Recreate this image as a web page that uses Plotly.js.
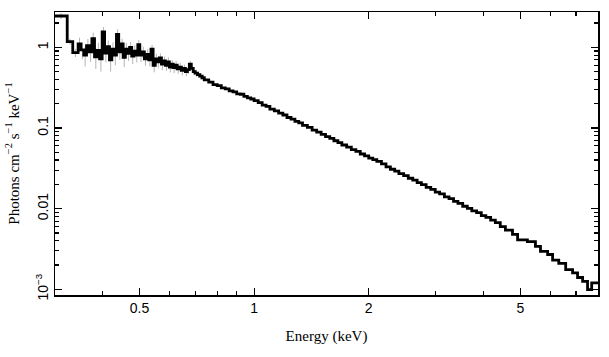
<!DOCTYPE html>
<html>
<head>
<meta charset="utf-8">
<script src="https://cdn.plot.ly/plotly-3.0.1.min.js"></script>
<style>html,body{margin:0;padding:0;background:#fff;}#chart{width:609px;height:357px;}</style>
</head>
<body>
<div id="chart"></div>
<script>
// Lower bin edges (keV)
var energyLo = [
  0.300,0.323,0.334,0.345,0.351,0.357,0.363,0.369,0.375,0.381,
  0.387,0.393,0.399,0.405,0.411,0.417,0.423,0.429,0.435,0.441,
  0.447,0.453,0.459,0.465,0.471,0.477,0.483,0.489,0.495,0.501,
  0.508,0.515,0.522,0.529,0.536,0.543,0.550,0.557,0.564,0.571,
  0.578,0.585,0.592,0.599,0.606,0.613,0.620,0.628,0.636,0.644,
  0.652,0.660,0.668,0.676,0.684,0.692,0.700,0.710,0.720,0.730,
  0.74,0.76,0.78,0.80,0.82,0.84,0.86,0.88,0.90,0.92,
  0.94,0.96,0.98,1.000,1.025,1.05,1.075,1.10,1.13,1.16,
  1.19,1.22,1.25,1.28,1.31,1.34,1.38,1.42,1.46,1.50,
  1.54,1.58,1.62,1.66,1.70,1.75,1.80,1.85,1.90,1.95,
  2.00,2.05,2.10,2.16,2.22,2.28,2.34,2.40,2.47,2.54,
  2.61,2.68,2.75,2.83,2.91,2.99,3.07,3.16,3.25,3.34,
  3.43,3.53,3.63,3.73,3.84,3.95,4.06,4.18,4.30,4.43,
  4.57,4.77,4.92,5.22,5.48,5.65,5.90,6.08,6.31,6.58,
  6.86,7.07,7.29,7.51,7.70
];
var energyMax = 8.0;

// Flux per bin (photons cm^-2 s^-1 keV^-1)
var flux = [
  2.45,1.18,0.86,1.10,0.93,0.80,1.05,0.88,1.28,0.76,
  0.92,0.72,1.55,0.85,1.02,0.70,0.95,0.80,1.45,0.88,
  1.10,0.75,0.95,0.84,1.00,0.78,0.90,0.80,1.08,0.80,
  0.88,0.72,0.82,0.70,0.95,0.60,0.72,0.66,0.74,0.62,
  0.68,0.60,0.66,0.57,0.62,0.56,0.60,0.54,0.57,0.52,
  0.55,0.50,0.53,0.62,0.55,0.50,0.48,0.46,0.44,0.42,
  0.395,0.370,0.345,0.335,0.315,0.305,0.288,0.280,0.265,0.262,
  0.247,0.236,0.229,0.218,0.206,0.192,0.185,0.171,0.163,0.153,
  0.145,0.135,0.129,0.121,0.116,0.108,0.102,0.094,0.089,0.0835,
  0.0780,0.0745,0.0695,0.0660,0.0615,0.0580,0.0540,0.0512,0.0476,0.0452,
  0.0422,0.0405,0.0385,0.0360,0.0330,0.0308,0.0292,0.0272,0.0256,0.0238,
  0.0226,0.0210,0.0198,0.0183,0.0173,0.0160,0.0152,0.0140,0.0133,0.0123,
  0.0116,0.0107,0.0101,0.0094,0.0089,0.0082,0.0078,0.0072,0.0067,0.0060,
  0.0054,0.0048,0.0041,0.0039,0.0034,0.00295,0.0027,0.0023,0.0021,0.00175,
  0.0016,0.0014,0.00125,0.00099,0.0012
];

// 1-sigma errors for the low-energy bins
var fluxErr = [
  0.20,0.10,0.10,0.22,0.22,0.22,0.22,0.22,0.24,0.22,
  0.22,0.22,0.24,0.20,0.20,0.20,0.20,0.20,0.22,0.18,
  0.18,0.18,0.18,0.16,0.16,0.16,0.16,0.15,0.16,0.14,
  0.14,0.13,0.13,0.12,0.13,0.11,0.11,0.10,0.10,0.10,
  0.09,0.09,0.09,0.08,0.08,0.08,0.08,0.07,0.07,0.07,
  0.06,0.06,0.06,0.06,0.05,0.05,0.05,0.04,0.04,0.04
];

var xTickVals = [0.5, 1, 2, 5];
var xTickText = ['0.5', '1', '2', '5'];
var xMinorVals = [0.4, 0.6, 0.7, 0.8, 0.9, 3, 4, 6, 7];
var yTickVals = [0.001, 0.01, 0.1, 1];
var yTickText = ['10<sup>\u22123</sup>', '0.01', '0.1', '1'];
var yMinorVals = [0.002,0.003,0.004,0.005,0.006,0.007,0.008,0.009,
                  0.02,0.03,0.04,0.05,0.06,0.07,0.08,0.09,
                  0.2,0.3,0.4,0.5,0.6,0.7,0.8,0.9,2];

var n = Math.min(energyLo.length, flux.length);
var edges = energyLo.slice(0, n).concat([energyMax]);
var stepX = edges.slice();
var stepY = flux.slice(0, n).concat([flux[n - 1]]);

var m = Math.min(fluxErr.length, n);
var errX = [], errY = [];
for (var i = 0; i < m; i++) {
  errX.push(Math.sqrt(edges[i] * edges[i + 1]));
  errY.push(flux[i]);
}

var traces = [
  {
    x: errX, y: errY, type: 'scatter', mode: 'markers',
    marker: {size: 1, color: 'rgba(0,0,0,0)'},
    error_y: {type: 'data', array: fluxErr.slice(0, m), visible: true,
              color: '#b4b4b4', thickness: 1, width: 0},
    hoverinfo: 'skip', showlegend: false
  },
  {
    x: stepX, y: stepY, type: 'scatter', mode: 'lines',
    line: {shape: 'hv', color: '#000', width: 2.8},
    showlegend: false
  }
];

var tickFont = {family: 'Liberation Sans, Arial, sans-serif', size: 14, color: '#000'};
var titleFont = {family: 'Liberation Serif, Times New Roman, serif', size: 15, color: '#000'};

var layout = {
  width: 609, height: 357,
  margin: {l: 55, r: 11, t: 12, b: 62},
  paper_bgcolor: '#fff', plot_bgcolor: '#fff',
  showlegend: false,
  xaxis: {
    type: 'log', range: [Math.log10(0.3), Math.log10(8.0)],
    showgrid: false, zeroline: false,
    showline: true, linecolor: '#000', linewidth: 1.5, mirror: 'ticks',
    ticks: 'inside', ticklen: 7, tickwidth: 1.2, tickcolor: '#000',
    tickmode: 'array', tickvals: xTickVals, ticktext: xTickText,
    tickfont: tickFont,
    minor: {tickmode: 'array', tickvals: xMinorVals, ticks: 'inside', ticklen: 4, tickwidth: 1.2, tickcolor: '#000', showgrid: false},
    title: {text: 'Energy (keV)', font: titleFont, standoff: 15}
  },
  yaxis: {
    type: 'log', range: [-3.071, 0.4385],
    showgrid: false, zeroline: false,
    showline: true, linecolor: '#000', linewidth: 1.5, mirror: 'ticks',
    ticks: 'inside', ticklen: 7, tickwidth: 1.2, tickcolor: '#000',
    tickmode: 'array', tickvals: yTickVals, ticktext: yTickText,
    tickangle: -90, tickfont: tickFont,
    minor: {tickmode: 'array', tickvals: yMinorVals, ticks: 'inside', ticklen: 4, tickwidth: 1.2, tickcolor: '#000', showgrid: false},
    title: {text: 'Photons cm<sup>\u22122</sup> s<sup>\u22121</sup> keV<sup>\u22121</sup>', font: titleFont, standoff: 10}
  }
};

Plotly.newPlot('chart', traces, layout, {displayModeBar: false, staticPlot: true});
</script>
</body>
</html>
